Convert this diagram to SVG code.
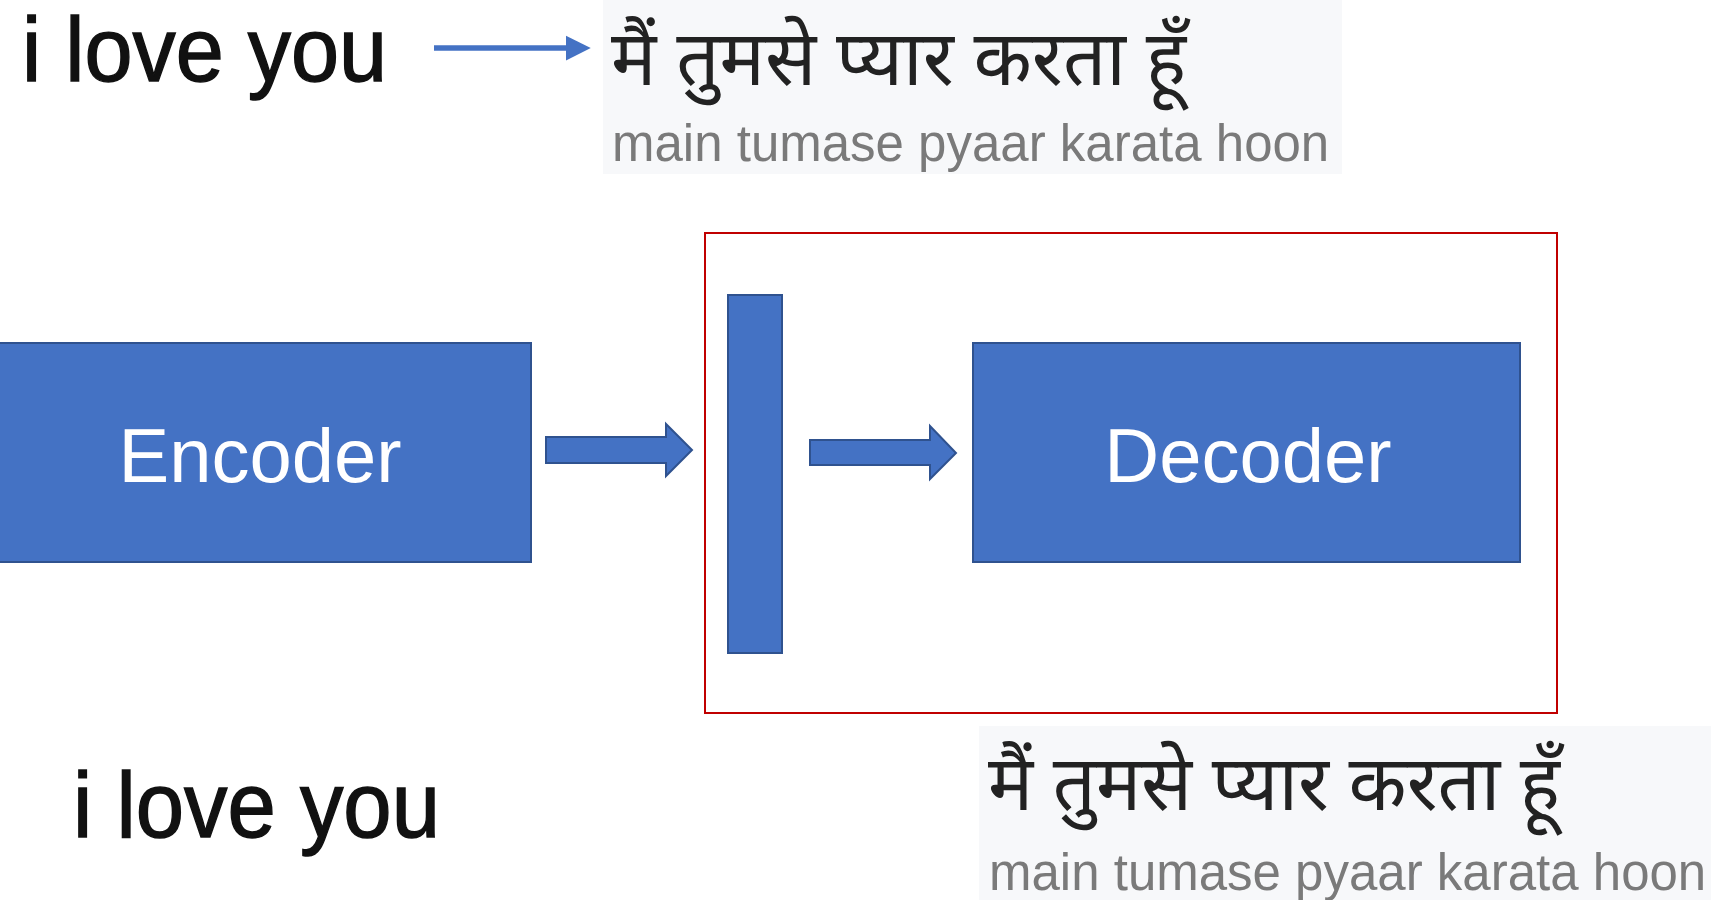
<svg xmlns="http://www.w3.org/2000/svg" width="1711" height="900" viewBox="0 0 1711 900">
  <style>
    .en { font-family: "Liberation Sans", Arial, sans-serif; fill: #111; stroke: #111; stroke-width: 1.4; }
    .hi { font-family: "Noto Sans Devanagari", "Noto Sans", "Lohit Devanagari", sans-serif; fill: #222; font-size: 77px; }
    .tr { font-family: "Liberation Sans", Arial, sans-serif; fill: #7a7a7a; font-size: 51px; }
    .panel { fill: #f7f8fa; }
    .block { fill: #4472c4; stroke: #2f528f; stroke-width: 2; }
    .label { font-family: "Liberation Sans", Arial, sans-serif; fill: #ffffff; font-size: 76px; text-anchor: middle; }
  </style>
  <defs>
    <marker id="head" viewBox="0 0 10 10" refX="0" refY="5" markerWidth="4.5" markerHeight="5" orient="auto" markerUnits="strokeWidth">
      <path d="M0,0 L10,5 L0,10 z" fill="#4472c4"/>
    </marker>
  </defs>
  <rect width="1711" height="900" fill="#ffffff"/>

  <!-- source sentence, top -->
  <g id="src-top">
    <text class="en" x="22" y="81" font-size="90" textLength="365" lengthAdjust="spacingAndGlyphs">i love you</text>
  </g>

  <!-- target sentence, top -->
  <g id="tgt-top">
    <rect class="panel" x="603" y="0" width="739" height="174"/>
    <text class="hi" x="611" y="85" textLength="575" lengthAdjust="spacingAndGlyphs">मैं तुमसे प्यार करता हूँ</text>
    <text class="tr" x="612" y="161">main tumase pyaar karata hoon</text>
  </g>

  <!-- decoder part outline -->
  <g id="decoder-frame">
    <rect x="705" y="233" width="852" height="480" fill="none" stroke="#c00000" stroke-width="2"/>
  </g>

  <g id="encoder">
    <rect class="block" x="-2" y="343" width="533" height="219"/>
    <text class="label" x="260" y="482">Encoder</text>
  </g>

  <g id="context">
    <rect class="block" x="728" y="295" width="54" height="358"/>
  </g>

  <g id="decoder">
    <rect class="block" x="973" y="343" width="547" height="219"/>
    <text class="label" x="1248" y="482">Decoder</text>
  </g>

  <!-- source sentence, bottom -->
  <g id="src-bottom">
    <text class="en" x="73" y="837" font-size="92" textLength="367" lengthAdjust="spacingAndGlyphs">i love you</text>
  </g>

  <!-- target sentence, bottom -->
  <g id="tgt-bottom">
    <rect class="panel" x="979" y="726" width="732" height="174"/>
    <text class="hi" x="988" y="810" textLength="572" lengthAdjust="spacingAndGlyphs">मैं तुमसे प्यार करता हूँ</text>
    <text class="tr" x="989" y="890">main tumase pyaar karata hoon</text>
  </g>

  <g id="connectors">
    <line x1="434" y1="48" x2="566" y2="48" stroke="#4472c4" stroke-width="5.5" marker-end="url(#head)"/>
    <path class="block" d="M546,437 H666 V424 L692,450 L666,476 V463 H546 Z"/>
    <path class="block" d="M810,440 H930 V426 L956,453 L930,479 V465 H810 Z"/>
  </g>
</svg>
